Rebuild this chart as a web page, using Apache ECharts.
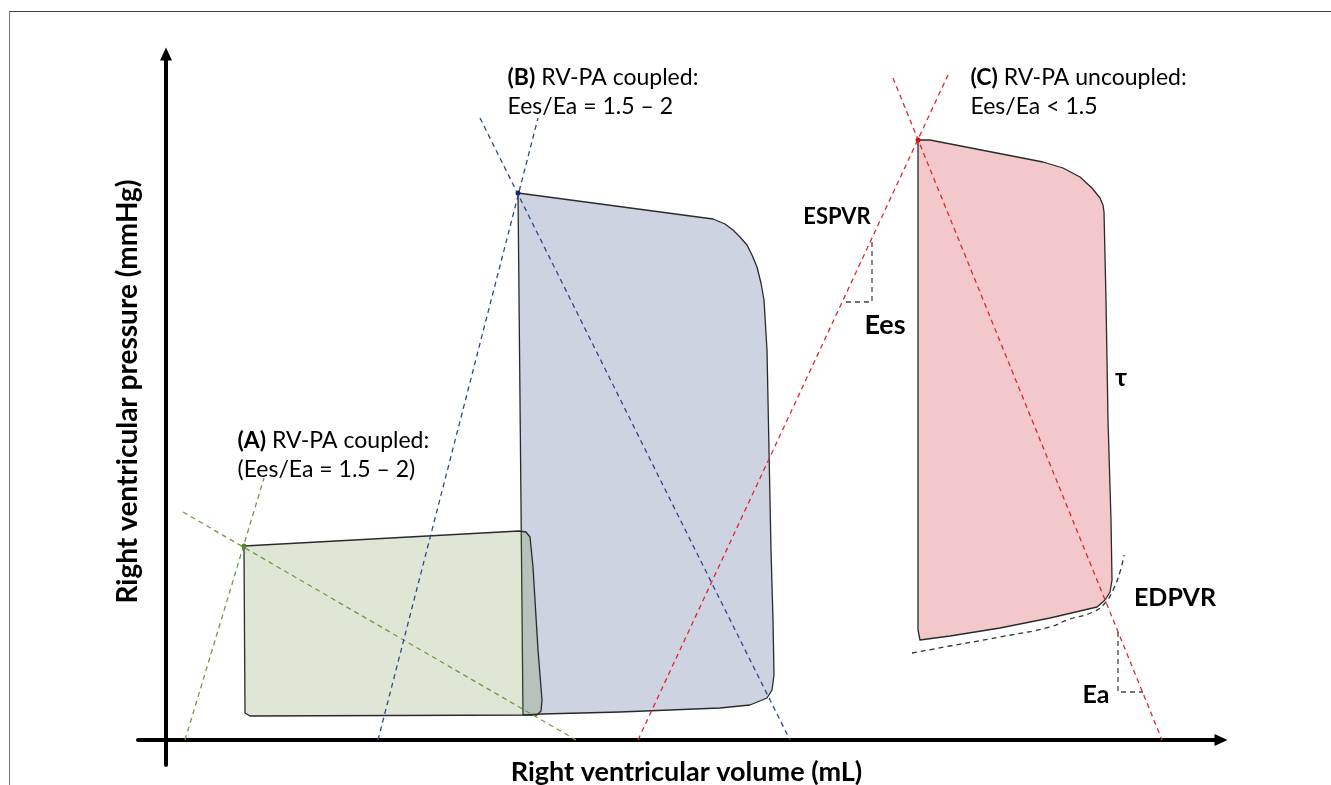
<!DOCTYPE html>
<html><head><meta charset="utf-8">
<script src="https://cdn.jsdelivr.net/npm/echarts@6/dist/echarts.min.js"></script>
<style>html,body{margin:0;padding:0;background:#fff}#c{width:1331px;height:785px}</style>
</head><body><div id="c"></div>
<script>
// ---- data (volume units, pressure units; arbitrary schematic scale) ----
const loopA = [[78,194],[353,209],[360,208],[364,203],[367,173],[372,90],[376,40],[375,29],[371,25],[84,24],[79,27],[78,190]];
const loopB = [[352,547],[547,521],[559,516],[567,510],[574,503],[581,495],[586,485],[591,473],[595,457],[598,440],[601,390],[603,290],[605,190],[607,120],[608,65],[606,50],[601,42],[584,35],[554,32],[454,28],[376,26],[357,25],[354,340]];
const loopC = [[752,600],[764,600],[877,578],[897,572],[914,563],[926,552],[934,542],[937,535],[938,528],[940,440],[942,320],[945,220],[946,160],[944,148],[939,140],[931,133],[884,122],[834,112],[784,104],[754,100],[752,110]];

const espvrA = [[19,0],[98,262]];
const eaA    = [[17,228],[410,0]];
const espvrB = [[212,0],[372,622]];
const eaB    = [[314,622],[624,0]];
const espvrC = [[472,0],[782,665]];
const eaC    = [[727,662],[996,0]];

const edpvr = [[746,87],[784,94],[834,103],[884,113],[901,120],[927,128],[939,137],[947,150],[954,168],[958,185]];
const eesSlope = [[706,498],[706,438],[677,438]];
const eaSlope  = [[952,108],[952,48],[977,48]];

const endSystolicPoints = [[78,194],[352,547],[752,600]];

const blockLabels = ['{b|(A)} RV-PA coupled:\n(Ees/Ea = 1.5 – 2)', '{b|(B)} RV-PA coupled:\nEes/Ea = 1.5 – 2', '{b|(C)} RV-PA uncoupled:\nEes/Ea < 1.5'];
const blockAnchors = [[71,285],[341,648],[804,648]];
const termLabels = ['ESPVR','Ees','τ','EDPVR','Ea'];
const termAnchors = [[671,523],[719,415],[955,362],[1009,142],[930,45]];

const xAxisName = 'Right ventricular volume (mL)';
const yAxisName = 'Right ventricular pressure (mmHg)';

// ---- chart ----
const FONT = 'Lato';
const termFontSizes = [22, 27, 25, 25, 25];
const chart = echarts.init(document.getElementById('c'), null, {renderer:'canvas'});

function loopSeries(pts, fill, z) {
  return {
    type:'custom', coordinateSystem:'cartesian2d', silent:true, z:z,
    data:[[pts[0][0], pts[0][1]]],
    renderItem:function(params, api){
      return {type:'polygon', shape:{points:pts.map(function(p){return api.coord(p);})},
        style:{fill:fill, stroke:'#2a2a2a', lineWidth:1.3, lineJoin:'round'}};
    }
  };
}
function dashSeries(pts, color, z, smooth) {
  return {type:'line', data:pts, symbol:'none', silent:true, smooth:!!smooth, z:z||5,
    lineStyle:{color:color, width:1.3, type:[5,4]}};
}

const option = {
  animation:false,
  backgroundColor:'#fff',
  grid:{left:138, right:110, top:54, bottom:20, outerBoundsMode:'none', containLabel:false},
  xAxis:{type:'value', min:-28, max:1055,
    name:xAxisName, nameLocation:'middle', nameGap:-6,
    nameTextStyle:{fontFamily:FONT, fontSize:27, fontWeight:'bold', color:'#000', padding:[0,0,0,14]},
    axisLine:{show:true, onZero:true, symbol:['none','triangle'], symbolSize:[12,13], lineStyle:{color:'#000', width:4}},
    axisTick:{show:false}, axisLabel:{show:false}, splitLine:{show:false}},
  yAxis:{type:'value', min:-25, max:686,
    name:yAxisName, nameLocation:'middle', nameGap:-4,
    nameTextStyle:{fontFamily:FONT, fontSize:28, fontWeight:'bold', color:'#000', padding:[0,0,0,36]},
    axisLine:{show:true, onZero:true, symbol:['none','triangle'], symbolSize:[12,13], lineStyle:{color:'#000', width:4}},
    axisTick:{show:false}, axisLabel:{show:false}, splitLine:{show:false}},
  graphic:[
    {type:'line', shape:{x1:9, y1:11.5, x2:1331, y2:11.5}, style:{stroke:'#444', lineWidth:1.2}, silent:true},
    {type:'line', shape:{x1:9.5, y1:11, x2:9.5, y2:785}, style:{stroke:'#777', lineWidth:1}, silent:true}
  ],
  series:[
    loopSeries(loopB, '#cdd3e0', 2),
    loopSeries(loopA, 'rgba(95,130,50,0.2)', 3),
    loopSeries(loopC, '#f2c8ca', 2),
    dashSeries(espvrA, '#6f9a45'),
    dashSeries(eaA, '#6f9a45'),
    dashSeries(espvrB, '#2b4a8c'),
    dashSeries(eaB, '#2b4a8c'),
    dashSeries(espvrC, '#e0282c'),
    dashSeries(eaC, '#e0282c'),
    dashSeries(edpvr, '#333', 5, 0.4),
    dashSeries(eesSlope, '#444'),
    dashSeries(eaSlope, '#444'),
    {type:'scatter', silent:true, z:8, symbolSize:5,
      data:endSystolicPoints.map(function(p,i){return {value:p, itemStyle:{opacity:1, color:['#4a8a2a','#0d2a6e','#d4121c'][i]}};})},
    {type:'scatter', silent:true, z:9, symbolSize:1, itemStyle:{color:'rgba(0,0,0,0)', opacity:1},
      data:blockAnchors.map(function(p,i){return {value:p, label:{formatter:blockLabels[i]}};}),
      label:{show:true, position:'right', distance:0, fontFamily:FONT, fontSize:23, color:'#000', opacity:1, lineHeight:29,
        rich:{b:{fontFamily:FONT, fontSize:23, fontWeight:'bold', color:'#000', lineHeight:29}}}},
    {type:'scatter', silent:true, z:9, symbolSize:1, itemStyle:{color:'rgba(0,0,0,0)', opacity:1},
      data:termAnchors.map(function(p,i){return {value:p, label:{formatter:termLabels[i], fontSize:termFontSizes[i]}};}),
      label:{show:true, position:'inside', fontFamily:FONT, fontWeight:'bold', color:'#000', opacity:1}}
  ]
};
chart.setOption(option);
</script></body></html>
